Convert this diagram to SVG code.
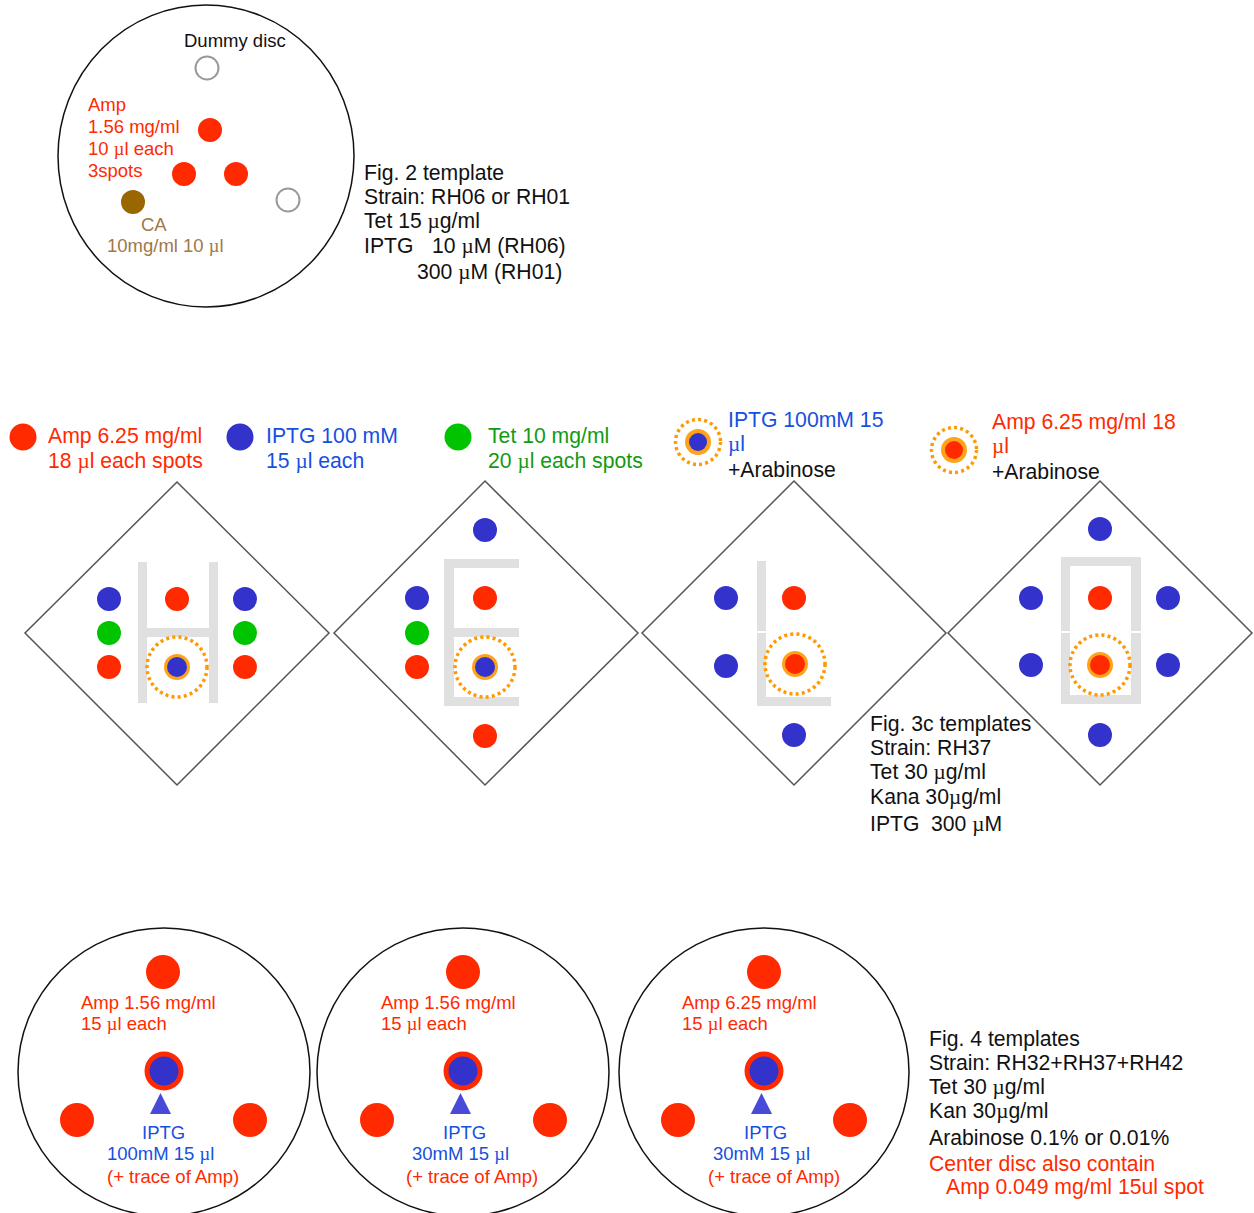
<svg xmlns="http://www.w3.org/2000/svg" width="1254" height="1213" viewBox="0 0 1254 1213">
<style>
text{font-family:"Liberation Sans",Arial,sans-serif}
.t18{font-size:18.5px}
.t21{font-size:21.2px}
.u{font-family:"Liberation Serif","Times New Roman",serif}
.red{fill:#ff2a00}
.blue{fill:#1550e0}
.green{fill:#129a12}
.blk{fill:#111}
.brown{fill:#a0784a}
.plate{fill:none;stroke:#111;stroke-width:1.5}
.dia{fill:#fff;stroke:#555;stroke-width:1.5}
.bar{fill:#e0e0e0}
.dR{fill:#ff2a00}
.dB{fill:#3333cc}
.dG{fill:#00c400}
.dot{fill:none;stroke:#ff9900;stroke-width:3.5;stroke-dasharray:3 3.2}
.ring{fill:#ffa31a}
.empty{fill:#fff;stroke:#999;stroke-width:2}
.tri{fill:#4a4ad8}
</style>

<!-- Fig 2 plate -->
<g id="fig2-plate">
<ellipse class="plate" cx="206" cy="156" rx="148" ry="151"/>
<text class="t18 blk" x="184" y="47">Dummy disc</text>
<circle class="empty" cx="207" cy="68" r="11.5"/>
<circle class="empty" cx="288" cy="200" r="11.5"/>
<circle class="dR" cx="210" cy="130" r="12"/>
<circle class="dR" cx="184" cy="174" r="12"/>
<circle class="dR" cx="236" cy="174" r="12"/>
<circle cx="133" cy="202" r="12" fill="#996600"/>
<text class="t18 red" x="88" y="111">Amp</text>
<text class="t18 red" x="88" y="133">1.56 mg/ml</text>
<text class="t18 red" x="88" y="155">10 <tspan class="u">µ</tspan>l each</text>
<text class="t18 red" x="88" y="177">3spots</text>
<text class="t18 brown" x="141" y="231">CA</text>
<text class="t18 brown" x="107" y="252">10mg/ml 10 <tspan class="u">µ</tspan>l</text>
</g>
<g id="fig2-text">
<text class="t21 blk" x="364" y="180">Fig. 2 template</text>
<text class="t21 blk" x="364" y="204">Strain: RH06 or RH01</text>
<text class="t21 blk" x="364" y="228">Tet 15 <tspan class="u">µ</tspan>g/ml</text>
<text class="t21 blk" x="364" y="253">IPTG<tspan x="432">10 </tspan><tspan class="u">µ</tspan>M (RH06)</text>
<text class="t21 blk" x="417" y="279">300 <tspan class="u">µ</tspan>M (RH01)</text>
</g>

<!-- Legend -->
<g id="legend-amp">
<circle class="dR" cx="23" cy="437" r="13.5"/>
<text class="t21 red" x="48" y="443">Amp 6.25 mg/ml</text>
<text class="t21 red" x="48" y="468">18 <tspan class="u">µ</tspan>l each spots</text>
</g>
<g id="legend-iptg">
<circle class="dB" cx="240" cy="437" r="13.5"/>
<text class="t21 blue" x="266" y="443">IPTG 100 mM</text>
<text class="t21 blue" x="266" y="468">15 <tspan class="u">µ</tspan>l each</text>
</g>
<g id="legend-tet">
<circle class="dG" cx="458" cy="437" r="13.5"/>
<text class="t21 green" x="488" y="443">Tet 10 mg/ml</text>
<text class="t21 green" x="488" y="468">20 <tspan class="u">µ</tspan>l each spots</text>
</g>
<g id="legend-iptg-ara">
<circle class="dot" cx="698" cy="442" r="22.5"/>
<circle class="ring" cx="698" cy="442" r="13"/>
<circle class="dB" cx="698" cy="442" r="9"/>
<text class="t21 blue" x="728" y="427">IPTG 100mM 15</text>
<text class="t21 blue" x="728" y="451"><tspan class="u">µ</tspan>l</text>
<text class="t21 blk" x="728" y="477">+Arabinose</text>
</g>
<g id="legend-amp-ara">
<circle class="dot" cx="954" cy="450" r="22.5"/>
<circle class="ring" cx="954" cy="450" r="13"/>
<circle class="dR" cx="954" cy="450" r="9"/>
<text class="t21 red" x="992" y="429">Amp 6.25 mg/ml 18</text>
<text class="t21 red" x="992" y="453"><tspan class="u">µ</tspan>l</text>
<text class="t21 blk" x="992" y="479">+Arabinose</text>
</g>

<!-- Diamond 1: H -->
<g id="diamond-H">
<polygon class="dia" points="177,482 329,633 177,785 25,633"/>
<rect class="bar" x="138" y="562" width="9" height="141"/>
<rect class="bar" x="209" y="562" width="9" height="141"/>
<rect class="bar" x="147" y="628" width="62" height="9"/>
<circle class="dB" cx="109" cy="599" r="12"/>
<circle class="dR" cx="177" cy="599" r="12"/>
<circle class="dB" cx="245" cy="599" r="12"/>
<circle class="dG" cx="109" cy="633" r="12"/>
<circle class="dG" cx="245" cy="633" r="12"/>
<circle class="dR" cx="109" cy="667" r="12"/>
<circle class="dR" cx="245" cy="667" r="12"/>
<circle class="dot" cx="177" cy="667" r="30"/>
<circle class="ring" cx="177" cy="667" r="13"/>
<circle class="dB" cx="177" cy="667" r="10"/>
</g>

<!-- Diamond 2: E -->
<g id="diamond-E">
<polygon class="dia" points="485,481 638,633 485,785 334,633"/>
<rect class="bar" x="444" y="559" width="10" height="147"/>
<rect class="bar" x="449" y="559" width="70" height="9"/>
<rect class="bar" x="454" y="628" width="65" height="9"/>
<rect class="bar" x="449" y="697" width="70" height="9"/>
<circle class="dB" cx="485" cy="530" r="12"/>
<circle class="dB" cx="417" cy="598" r="12"/>
<circle class="dR" cx="485" cy="598" r="12"/>
<circle class="dG" cx="417" cy="633" r="12"/>
<circle class="dR" cx="417" cy="667" r="12"/>
<circle class="dR" cx="485" cy="736" r="12"/>
<circle class="dot" cx="485" cy="667" r="30"/>
<circle class="ring" cx="485" cy="667" r="13"/>
<circle class="dB" cx="485" cy="667" r="10"/>
</g>

<!-- Diamond 3: L -->
<g id="diamond-L">
<polygon class="dia" points="794,481 946,633 794,785 642,633"/>
<rect class="bar" x="757" y="561" width="9" height="70"/>
<rect class="bar" x="757" y="633" width="9" height="73"/>
<rect class="bar" x="760" y="697" width="71" height="9"/>
<circle class="dB" cx="726" cy="598" r="12"/>
<circle class="dR" cx="794" cy="598" r="12"/>
<circle class="dB" cx="726" cy="666" r="12"/>
<circle class="dB" cx="794" cy="735" r="12"/>
<circle class="dot" cx="795" cy="664" r="30"/>
<circle class="ring" cx="795" cy="664" r="13"/>
<circle class="dR" cx="795" cy="664" r="10"/>
</g>

<!-- Diamond 4: O -->
<g id="diamond-O">
<polygon class="dia" points="1100,481 1252,633 1100,785 948,633"/>
<rect class="bar" x="1061" y="557" width="9" height="74"/>
<rect class="bar" x="1131" y="557" width="10" height="74"/>
<rect class="bar" x="1061" y="633" width="9" height="70"/>
<rect class="bar" x="1131" y="633" width="10" height="70"/>
<rect class="bar" x="1061" y="557" width="80" height="9"/>
<rect class="bar" x="1061" y="695" width="80" height="9"/>
<circle class="dB" cx="1100" cy="529" r="12"/>
<circle class="dB" cx="1031" cy="598" r="12"/>
<circle class="dR" cx="1100" cy="598" r="12"/>
<circle class="dB" cx="1168" cy="598" r="12"/>
<circle class="dB" cx="1031" cy="665" r="12"/>
<circle class="dB" cx="1168" cy="665" r="12"/>
<circle class="dB" cx="1100" cy="735" r="12"/>
<circle class="dot" cx="1100" cy="665" r="30"/>
<circle class="ring" cx="1100" cy="665" r="13"/>
<circle class="dR" cx="1100" cy="665" r="10"/>
</g>

<g id="fig3c-text">
<text class="t21 blk" x="870" y="731">Fig. 3c templates</text>
<text class="t21 blk" x="870" y="755">Strain: RH37</text>
<text class="t21 blk" x="870" y="779">Tet 30 <tspan class="u">µ</tspan>g/ml</text>
<text class="t21 blk" x="870" y="804">Kana 30<tspan class="u">µ</tspan>g/ml</text>
<text class="t21 blk" x="870" y="831">IPTG<tspan x="931">300 </tspan><tspan class="u">µ</tspan>M</text>
</g>

<!-- Fig 4 plates -->
<g id="fig4-plate1">
<ellipse class="plate" cx="164" cy="1072" rx="146" ry="144"/>
<circle class="dR" cx="163" cy="972" r="17"/>
<circle class="dR" cx="77" cy="1120" r="17"/>
<circle class="dR" cx="250" cy="1120" r="17"/>
<circle class="dR" cx="164" cy="1071" r="19.5"/>
<circle class="dB" cx="164" cy="1071" r="14.5"/>
<polygon class="tri" points="160.5,1093 171,1114 150,1114"/>
<text class="t18 red" x="81" y="1009">Amp 1.56 mg/ml</text>
<text class="t18 red" x="81" y="1030">15 <tspan class="u">µ</tspan>l each</text>
<text class="t18 blue" x="142" y="1139">IPTG</text>
<text class="t18 blue" x="107" y="1160">100mM 15 <tspan class="u">µ</tspan>l</text>
<text class="t18 red" x="107" y="1183">(+ trace of Amp)</text>
</g>
<g id="fig4-plate2">
<ellipse class="plate" cx="463" cy="1072" rx="146" ry="144"/>
<circle class="dR" cx="463" cy="972" r="17"/>
<circle class="dR" cx="377" cy="1120" r="17"/>
<circle class="dR" cx="550" cy="1120" r="17"/>
<circle class="dR" cx="463" cy="1071" r="19.5"/>
<circle class="dB" cx="463" cy="1071" r="14.5"/>
<polygon class="tri" points="460.5,1093 471,1114 450,1114"/>
<text class="t18 red" x="381" y="1009">Amp 1.56 mg/ml</text>
<text class="t18 red" x="381" y="1030">15 <tspan class="u">µ</tspan>l each</text>
<text class="t18 blue" x="443" y="1139">IPTG</text>
<text class="t18 blue" x="412" y="1160">30mM 15 <tspan class="u">µ</tspan>l</text>
<text class="t18 red" x="406" y="1183">(+ trace of Amp)</text>
</g>
<g id="fig4-plate3">
<ellipse class="plate" cx="764" cy="1072" rx="145" ry="144"/>
<circle class="dR" cx="764" cy="972" r="17"/>
<circle class="dR" cx="678" cy="1120" r="17"/>
<circle class="dR" cx="850" cy="1120" r="17"/>
<circle class="dR" cx="764" cy="1071" r="19.5"/>
<circle class="dB" cx="764" cy="1071" r="14.5"/>
<polygon class="tri" points="761.5,1093 772,1114 751,1114"/>
<text class="t18 red" x="682" y="1009">Amp 6.25 mg/ml</text>
<text class="t18 red" x="682" y="1030">15 <tspan class="u">µ</tspan>l each</text>
<text class="t18 blue" x="744" y="1139">IPTG</text>
<text class="t18 blue" x="713" y="1160">30mM 15 <tspan class="u">µ</tspan>l</text>
<text class="t18 red" x="708" y="1183">(+ trace of Amp)</text>
</g>
<g id="fig4-text">
<text class="t21 blk" x="929" y="1046">Fig. 4 templates</text>
<text class="t21 blk" x="929" y="1070">Strain: RH32+RH37+RH42</text>
<text class="t21 blk" x="929" y="1094">Tet 30 <tspan class="u">µ</tspan>g/ml</text>
<text class="t21 blk" x="929" y="1118">Kan 30<tspan class="u">µ</tspan>g/ml</text>
<text class="t21 blk" x="929" y="1145">Arabinose 0.1% or 0.01%</text>
<text class="t21 red" x="929" y="1171">Center disc also contain</text>
<text class="t21 red" x="946" y="1194">Amp 0.049 mg/ml 15ul spot</text>
</g>
<g id="connectors"></g>
</svg>
